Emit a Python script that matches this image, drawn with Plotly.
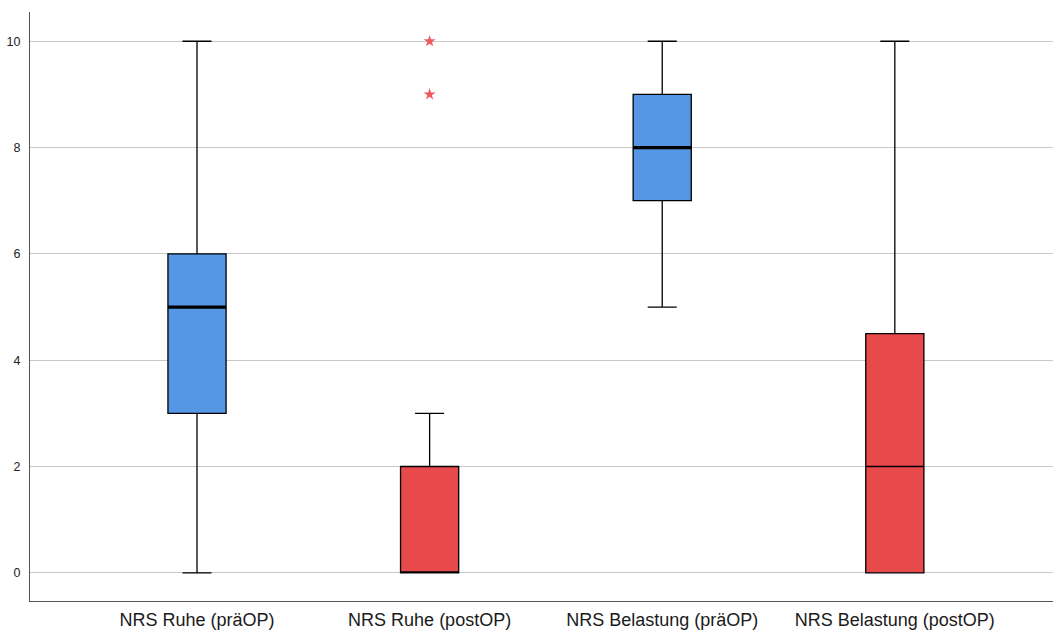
import plotly.graph_objects as go

# NRS pain scores, pre- and post-operative
categories = ["NRS Ruhe (präOP)", "NRS Ruhe (postOP)",
              "NRS Belastung (präOP)", "NRS Belastung (postOP)"]
lower_whisker = [0, 0, 5, 0]
q1 = [3, 0, 7, 0]
median = [5, 0, 8, 2]
q3 = [6, 2, 9, 4.5]
upper_whisker = [10, 3, 10, 10]
outliers = [[], [9, 10], [], []]
thick_median = [True, False, True, False]

BLUE = "#5596e5"
RED = "#e8494b"
box_colors = [BLUE, RED, BLUE, RED]
BOX_W = 0.25

fig = go.Figure()

for i, name in enumerate(categories):
    fig.add_trace(go.Box(
        x=[i], q1=[q1[i]], median=[median[i]], q3=[q3[i]],
        lowerfence=[lower_whisker[i]], upperfence=[upper_whisker[i]],
        width=BOX_W, whiskerwidth=0.5,
        fillcolor=box_colors[i],
        line=dict(color="black", width=1.3),
        boxpoints=False, hoverinfo="skip", showlegend=False,
    ))
    if thick_median[i]:
        fig.add_trace(go.Scatter(
            x=[i - BOX_W / 2, i + BOX_W / 2], y=[median[i], median[i]],
            mode="lines", line=dict(color="black", width=3.2),
            hoverinfo="skip", showlegend=False,
        ))
    if outliers[i]:
        fig.add_trace(go.Scatter(
            x=[i] * len(outliers[i]), y=outliers[i], mode="markers",
            marker=dict(symbol="star", size=9, color="#ee5a5c",
                        line=dict(width=0)),
            hoverinfo="skip", showlegend=False,
        ))

fig.update_layout(
    width=1053, height=630,
    margin=dict(l=30, r=0, t=12, b=29),
    paper_bgcolor="white", plot_bgcolor="white",
    font=dict(family="Liberation Sans, Arial, sans-serif", color="#222"),
    xaxis=dict(
        range=[-0.718, 3.68], tickmode="array",
        tickvals=list(range(len(categories))), ticktext=categories,
        tickfont=dict(size=18, color="#1a1a1a"),
        showgrid=False, zeroline=False, showline=True,
        linecolor="#555", linewidth=1.3, ticks="", ticklabelstandoff=2,
    ),
    yaxis=dict(
        range=[-0.53, 10.55], tickvals=[0, 2, 4, 6, 8, 10],
        tickfont=dict(size=12.5, color="#222"),
        showgrid=True, gridcolor="#c8c8c8", gridwidth=1,
        zeroline=False, showline=True, linecolor="#555", linewidth=1.3,
        ticks="", ticklabelstandoff=6,
    ),
)

fig.write_html("out.html")
